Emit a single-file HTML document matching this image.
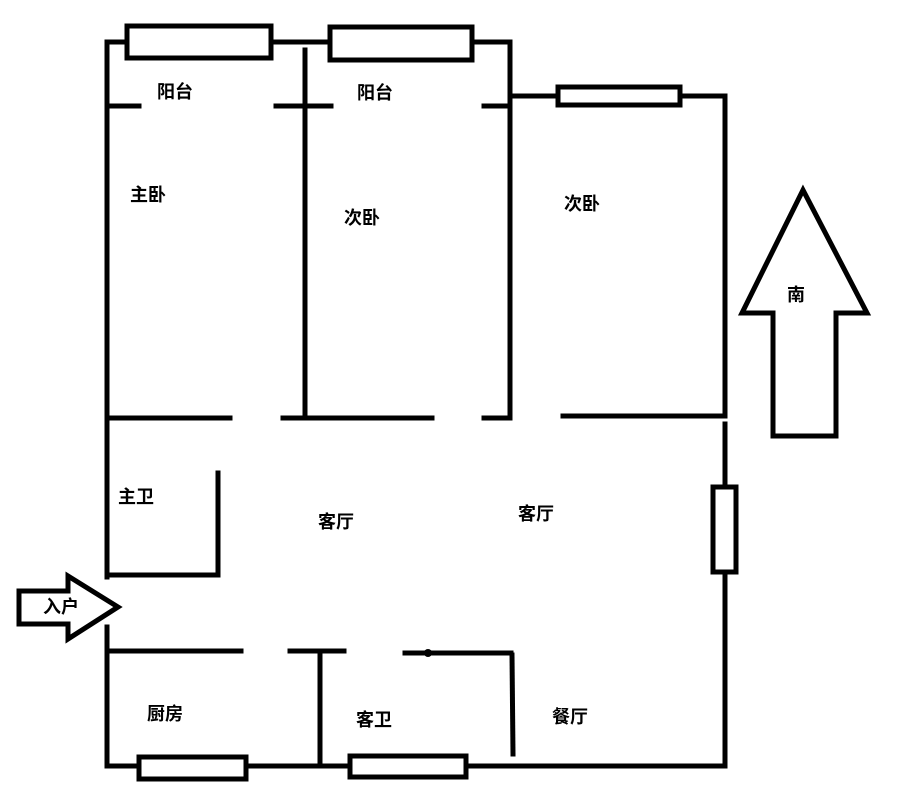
<!DOCTYPE html>
<html><head><meta charset="utf-8"><style>
html,body{margin:0;padding:0;background:#fff;}
text{font-family:"Liberation Sans","Noto Sans CJK SC",sans-serif;font-size:18px;font-weight:bold;fill:#000;text-anchor:middle;dominant-baseline:central;}
</style></head><body>
<svg width="898" height="800" viewBox="0 0 898 800" xmlns="http://www.w3.org/2000/svg">
<g stroke="#000" stroke-width="5" fill="none" stroke-linecap="square">
<!-- left wall -->
<line x1="107" y1="42" x2="107" y2="577"/>
<line x1="107" y1="627" x2="107" y2="766"/>
<!-- top -->
<line x1="107" y1="42" x2="127" y2="42"/>
<rect x="127" y="26" width="144" height="32"/>
<line x1="271" y1="42" x2="330" y2="42"/>
<rect x="330" y="27" width="142" height="33"/>
<line x1="472" y1="42" x2="510" y2="42"/>
<line x1="510" y1="42" x2="510" y2="418"/>
<line x1="510" y1="96" x2="558" y2="96"/>
<rect x="558" y="87" width="122" height="18"/>
<line x1="680" y1="96" x2="725" y2="96"/>
<line x1="725" y1="96" x2="725" y2="416"/>
<!-- middle wall -->
<line x1="305" y1="50" x2="305" y2="418"/>
<!-- balcony lines -->
<line x1="107" y1="106" x2="139" y2="106"/>
<line x1="276" y1="106" x2="331" y2="106"/>
<line x1="484" y1="106" x2="510" y2="106"/>
<!-- y=418 -->
<line x1="107" y1="418" x2="230" y2="418"/>
<line x1="283" y1="418" x2="432" y2="418"/>
<line x1="484" y1="418" x2="508" y2="418"/>
<line x1="563" y1="416" x2="725" y2="416"/>
<!-- right wall -->
<line x1="725" y1="424" x2="725" y2="487"/>
<rect x="713" y="487" width="23" height="85"/>
<line x1="725" y1="572" x2="725" y2="766"/>
<!-- master bath -->
<line x1="218" y1="473" x2="218" y2="575"/>
<line x1="107" y1="575" x2="218" y2="575"/>
<!-- y=651 -->
<line x1="107" y1="651" x2="241" y2="651"/>
<line x1="290" y1="651" x2="344" y2="651"/>
<line x1="405" y1="653" x2="511" y2="653"/>
<line x1="512" y1="655" x2="513" y2="754"/>
<line x1="320" y1="651" x2="320" y2="765"/>
<!-- bottom -->
<line x1="107" y1="766" x2="725" y2="766"/>
<rect x="139" y="757" width="107" height="22" fill="#fff"/>
<rect x="350" y="756" width="116" height="21" fill="#fff"/>
<!-- entrance arrow -->
<polygon points="19,591 68,591 68,576 118,607 68,639 68,624 19,624" stroke-linejoin="miter"/>
<!-- south arrow -->
<polygon points="803,190 867,313 836,313 836,436 773,436 773,313 742,313" stroke-linejoin="miter"/>
</g>
<circle cx="428" cy="653" r="4" fill="#000"/>
<text x="175" y="92">阳台</text>
<text x="375" y="93">阳台</text>
<text x="148" y="195">主卧</text>
<text x="362" y="218">次卧</text>
<text x="582" y="204">次卧</text>
<text x="136" y="497">主卫</text>
<text x="336" y="522">客厅</text>
<text x="536" y="514">客厅</text>
<text x="61" y="607">入户</text>
<text x="165" y="714">厨房</text>
<text x="374" y="720">客卫</text>
<text x="570" y="717">餐厅</text>
<text x="796" y="295">南</text>
</svg>
</body></html>
